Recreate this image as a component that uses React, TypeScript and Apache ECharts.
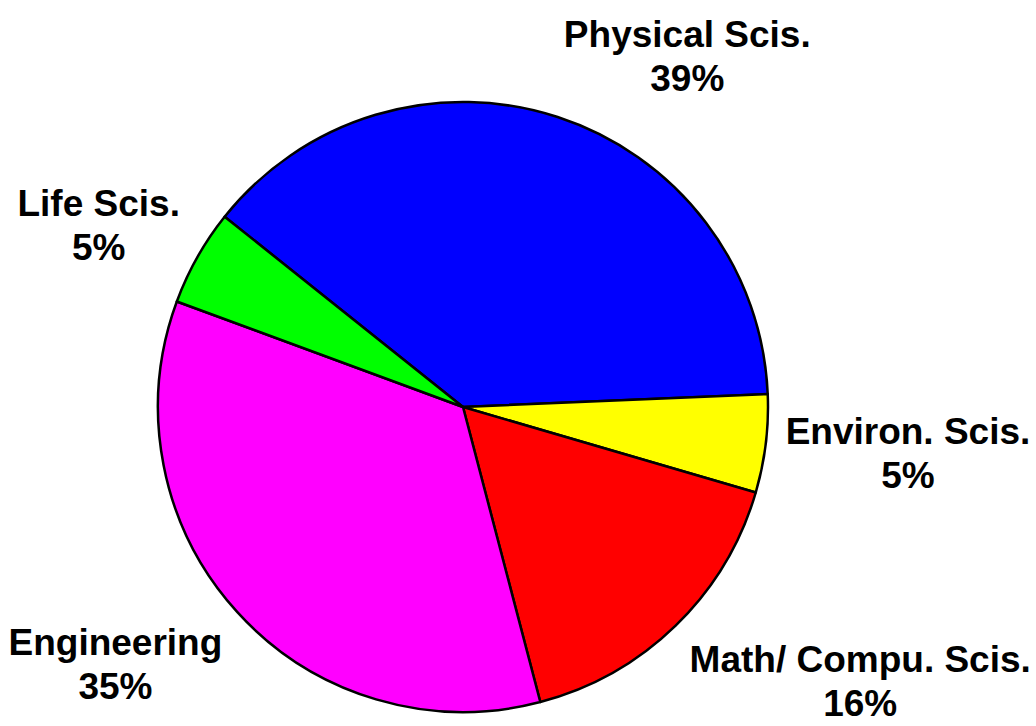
import React, { useEffect, useRef } from "react";
import * as echarts from "echarts";

const categories = ["Physical Scis.", "Environ. Scis.", "Math/ Compu. Scis.", "Engineering", "Life Scis."];
const values = [38.6, 5.2, 16.4, 34.7, 5.1];
const colors = ["#0000FF", "#FFFF00", "#FF0000", "#FF00FF", "#00FF00"];

const START_ANGLE = 141.4;
const CENTER: [number, number] = [463, 407];
const RADIUS = 305;
const GAP = 20;

export default function App() {
  const ref = useRef<HTMLDivElement>(null);
  useEffect(() => {
    if (!ref.current) return;
    const chart = echarts.init(ref.current, null, { renderer: "svg" });
    const total = values.reduce((a, b) => a + b, 0);
    const cum: number[] = [];
    let acc = 0;
    values.forEach((v) => {
      cum.push(acc);
      acc += v;
    });
    chart.setOption({
      animation: false,
      backgroundColor: "#ffffff",
      series: [
        {
          type: "pie",
          center: CENTER,
          radius: RADIUS,
          startAngle: START_ANGLE,
          clockwise: true,
          avoidLabelOverlap: false,
          data: categories.map((name, i) => ({
            name,
            value: values[i],
            itemStyle: { color: colors[i] },
          })),
          itemStyle: { borderColor: "#000000", borderWidth: 2.5 },
          label: {
            show: true,
            position: "outside",
            formatter: (p: any) => `${p.name}\n${Math.round(p.percent)}%`,
            fontFamily: "'Liberation Sans', Arial, sans-serif",
            fontWeight: "bold",
            fontSize: 37,
            lineHeight: 44,
            color: "#000000",
          },
          labelLine: { show: false },
          labelLayout: (params: any) => {
            const i = params.dataIndex;
            const mid = (-START_ANGLE + ((cum[i] + values[i] / 2) / total) * 360) * (Math.PI / 180);
            const c = Math.cos(mid);
            const s = Math.sin(mid);
            const r = RADIUS + GAP;
            const ax = CENTER[0] + c * r;
            const ay = CENTER[1] + s * r;
            const w = params.labelRect.width;
            const h = params.labelRect.height;
            return {
              x: ax + (c >= 0 ? 1 : -1) * (w / 2),
              y: ay + s * (h / 2) + (s > 0 ? s * 14 : 0),
              align: "center",
              verticalAlign: "middle",
            };
          },
        },
      ],
    });
    return () => chart.dispose();
  }, []);
  return (
    <div
      ref={ref}
      style={{ position: "fixed", left: 0, top: 0, width: 1036, height: 726 }}
    />
  );
}
